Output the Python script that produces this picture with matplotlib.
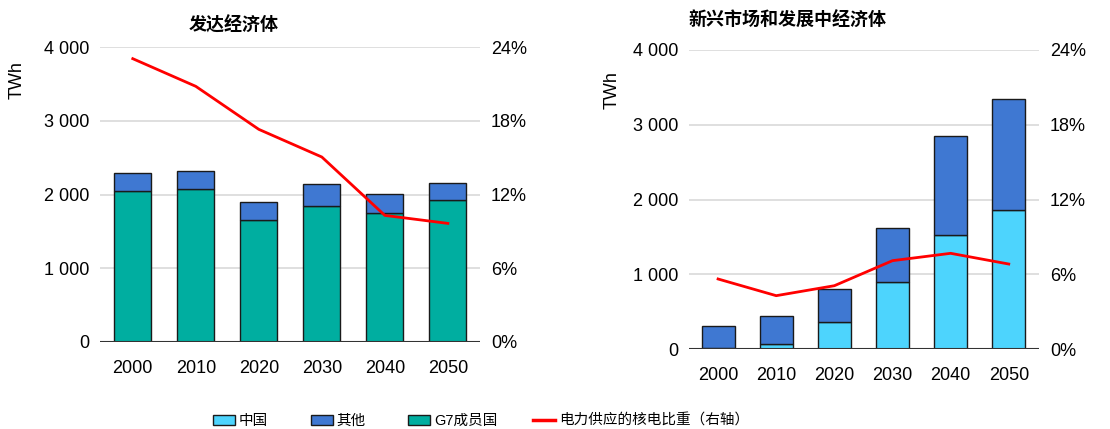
import numpy as np
import matplotlib
matplotlib.use("Agg")
import matplotlib.pyplot as plt
from matplotlib.patches import Patch
from matplotlib.lines import Line2D

plt.rcParams['font.family'] = ['Liberation Sans', 'Noto Sans CJK SC']

years = ["2000", "2010", "2020", "2030", "2040", "2050"]

# developed economies (TWh)
dev_g7 = [2050, 2070, 1650, 1840, 1750, 1930]
dev_other = [235, 245, 245, 305, 255, 225]
dev_share = [23.05, 20.8, 17.3, 15.05, 10.3, 9.65]

# emerging and developing economies (TWh)
emg_china = [15, 71, 361, 896, 1521, 1864]
emg_other = [288, 366, 437, 727, 1329, 1481]
emg_share = [5.62, 4.28, 5.08, 7.09, 7.68, 6.82]

c_china = "#4dd4fd"
c_other = "#3f78d2"
c_g7 = "#00aea0"
c_line = "#ff0000"
edge = "#1a1a1a"

W, H = 1110, 429
fig = plt.figure(figsize=(W / 100, H / 100), dpi=100)

def px(l, t, r, b):
    return [l / W, 1 - b / H, (r - l) / W, (b - t) / H]

def style(ax, ax2):
    ax.set_ylim(0, 4000)
    ax.set_yticks([0, 1000, 2000, 3000, 4000])
    ax.set_yticklabels(["0", "1 000", "2 000", "3 000", "4 000"])
    ax2.set_ylim(0, 24)
    ax2.set_yticks([0, 6, 12, 18, 24])
    ax2.set_yticklabels(["0%", "6%", "12%", "18%", "24%"])
    ax.grid(axis="y", color="#d9d9d9", linewidth=1.2)
    ax.set_axisbelow(True)
    for a in (ax, ax2):
        for s in ("top", "left", "right", "bottom"):
            a.spines[s].set_visible(False)
        a.tick_params(length=0, labelsize=13, pad=8)
    ax.axhline(0, color="#333333", linewidth=1.5, zorder=5)
    ax.tick_params(axis="x", pad=13)

x = np.arange(len(years))

# left chart
ax1 = fig.add_axes(px(100, 47, 480, 342))
ax1.bar(x, dev_g7, width=0.59, color=c_g7, edgecolor=edge, linewidth=1, zorder=3)
ax1.bar(x, dev_other, bottom=dev_g7, width=0.59, color=c_other, edgecolor=edge, linewidth=1, zorder=3)
ax1.set_xticks(x)
ax1.set_xticklabels(years)
ax1.set_xlim(-0.52, 5.51)
ax1r = ax1.twinx()
ax1r.plot(x, dev_share, color=c_line, linewidth=2, zorder=4)
style(ax1, ax1r)

# right chart
ax2 = fig.add_axes(px(689, 50, 1039, 349))
ax2.bar(x, emg_china, width=0.57, color=c_china, edgecolor=edge, linewidth=1, zorder=3)
ax2.bar(x, emg_other, bottom=emg_china, width=0.57, color=c_other, edgecolor=edge, linewidth=1, zorder=3)
ax2.set_xticks(x)
ax2.set_xticklabels(years)
ax2.set_xlim(-0.5, 5.52)
ax2r = ax2.twinx()
ax2r.plot(x, emg_share, color=c_line, linewidth=2, zorder=4)
style(ax2, ax2r)

# unit labels
fig.text(17 / W, 1 - 80 / H, "TWh", rotation=90, ha="center", va="center", fontsize=13)
fig.text(612 / W, 1 - 90 / H, "TWh", rotation=90, ha="center", va="center", fontsize=13)

fig.text(234 / W, 1 - 25 / H, "发达经济体", ha="center", va="center",
         fontsize=13, fontweight="bold", family=['Noto Sans CJK SC'])
fig.text(689 / W, 1 - 20 / H, "新兴市场和发展中经济体", ha="left", va="center",
         fontsize=13, fontweight="bold", family=['Noto Sans CJK SC'])

# legend, one entry at a time so each sits where the reference has it
handles = [
    Patch(facecolor=c_china, edgecolor=edge, label="中国"),
    Patch(facecolor=c_other, edgecolor=edge, label="其他"),
    Patch(facecolor=c_g7, edgecolor=edge, label="G7成员国"),
    Line2D([0], [0], color=c_line, linewidth=2.5, label="电力供应的核电比重（右轴）"),
]
starts = [213, 311, 408, 533]
for h, xs in zip(handles, starts):
    fig.legend(handles=[h], loc="center left", bbox_to_anchor=(xs / W, 1 - 421 / H),
               frameon=False, fontsize=10.5, handlelength=1.52, handleheight=0.75,
               handletextpad=0.25, borderpad=0, borderaxespad=0)

fig.savefig("out.png", dpi=100)
